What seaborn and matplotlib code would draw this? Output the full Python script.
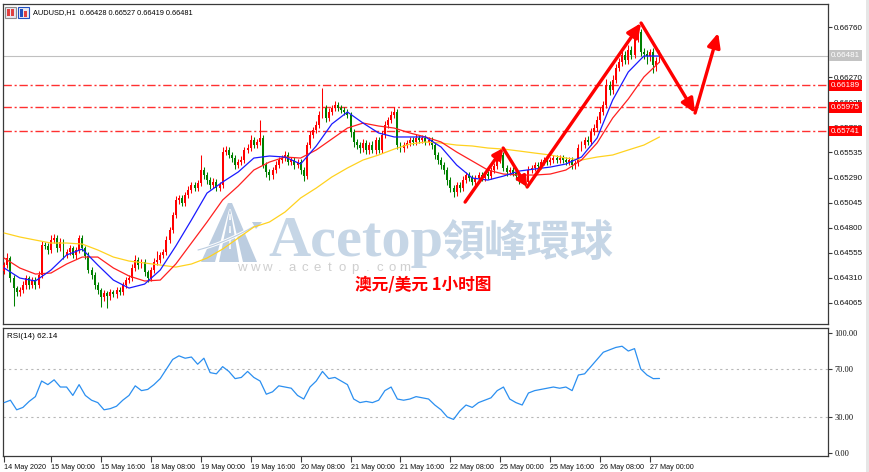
import numpy as np
import matplotlib
matplotlib.use("Agg")
import matplotlib.pyplot as plt
import matplotlib.transforms as mtransforms
from matplotlib.patches import Rectangle, Polygon
import seaborn as sns

sns.set_theme(style="white")
plt.rcParams["font.family"] = ["Liberation Sans", "DejaVu Sans"]

# ---------------- data ----------------
SYMBOL = "AUDUSD,H1"
OHLC_LAST = ["0.66428", "0.66527", "0.66419", "0.66481"]
OPEN_FIRST = 0.64380
CLOSE = [
    0.64435, 0.64503, 0.64308, 0.64210, 0.64171, 0.64191, 0.64240, 0.64308, 0.64240, 0.64288,
    0.64240, 0.64337, 0.64630, 0.64621, 0.64582, 0.64679, 0.64699, 0.64601, 0.64660, 0.64533,
    0.64562, 0.64601, 0.64533, 0.64582, 0.64699, 0.64601, 0.64523, 0.64386, 0.64337, 0.64240,
    0.64191, 0.64122, 0.64161, 0.64132, 0.64171, 0.64152, 0.64191, 0.64171, 0.64240, 0.64288,
    0.64308, 0.64406, 0.64484, 0.64435, 0.64464, 0.64367, 0.64308, 0.64386, 0.64464, 0.64484,
    0.64533, 0.64562, 0.64679, 0.64777, 0.64924, 0.65070, 0.65090, 0.65041, 0.65119, 0.65168,
    0.65217, 0.65187, 0.65236, 0.65363, 0.65314, 0.65265, 0.65217, 0.65246, 0.65187, 0.65217,
    0.65539, 0.65559, 0.65510, 0.65480, 0.65412, 0.65441, 0.65461, 0.65559, 0.65578, 0.65656,
    0.65607, 0.65637, 0.65676, 0.65412, 0.65344, 0.65314, 0.65363, 0.65412, 0.65461, 0.65480,
    0.65510, 0.65441, 0.65461, 0.65412, 0.65441, 0.65363, 0.65304, 0.65607, 0.65705, 0.65754,
    0.65803, 0.65901, 0.65969, 0.65871, 0.65930, 0.65969, 0.65998, 0.65969, 0.65949, 0.65930,
    0.65901, 0.65734, 0.65637, 0.65607, 0.65578, 0.65627, 0.65559, 0.65607, 0.65559, 0.65656,
    0.65559, 0.65705, 0.65803, 0.65852, 0.65901, 0.65930, 0.65607, 0.65578, 0.65607, 0.65627,
    0.65656, 0.65637, 0.65676, 0.65656, 0.65676, 0.65637, 0.65656, 0.65607, 0.65510, 0.65461,
    0.65412, 0.65363, 0.65265, 0.65187, 0.65148, 0.65217, 0.65187, 0.65265, 0.65314, 0.65285,
    0.65246, 0.65285, 0.65314, 0.65285, 0.65324, 0.65304, 0.65363, 0.65402, 0.65461, 0.65510,
    0.65383, 0.65344, 0.65363, 0.65334, 0.65304, 0.65265, 0.65285, 0.65246, 0.65363, 0.65383,
    0.65412, 0.65402, 0.65441, 0.65461, 0.65441, 0.65461, 0.65480, 0.65461, 0.65480, 0.65461,
    0.65441, 0.65461, 0.65412, 0.65432, 0.65578, 0.65607, 0.65656, 0.65637, 0.65734, 0.65774,
    0.65852, 0.65930, 0.65998, 0.66194, 0.66145, 0.66242, 0.66360, 0.66418, 0.66487, 0.66438,
    0.66536, 0.66487, 0.66653, 0.66711, 0.66516, 0.66496, 0.66477, 0.66516, 0.66389, 0.66428,
    0.66481,
]
# wick lengths in pips (0.0001)
WICK_UP = [
    3, 5, 2, 3, 2, 3, 4, 3, 2, 3,  3, 4, 4, 3, 3, 5, 4, 3, 4, 3,
    3, 3, 2, 3, 3, 3, 2, 4, 3, 3,  3, 2, 3, 2, 3, 2, 3, 3, 3, 3,
    3, 4, 5, 3, 3, 3, 2, 3, 4, 9,  3, 3, 4, 3, 3, 4, 3, 3, 3, 4,
    3, 3, 3, 15, 3, 3, 3, 4, 3, 3,  5, 4, 3, 3, 3, 3, 4, 3, 4, 5,
    3, 3, 18, 3, 3, 3, 3, 4, 3, 3,  4, 3, 3, 3, 3, 3, 3, 3, 4, 3,
    4, 4, 20, 3, 4, 3, 4, 3, 3, 3,  3, 3, 3, 3, 3, 4, 3, 3, 4, 3,
    3, 4, 4, 3, 4, 5, 3, 3, 3, 3,  3, 3, 4, 3, 3, 3, 3, 3, 3, 3,
    3, 3, 3, 3, 3, 3, 3, 4, 3, 3,  3, 3, 3, 3, 3, 3, 3, 3, 4, 5,
    3, 3, 3, 3, 3, 3, 3, 3, 4, 3,  3, 3, 3, 3, 3, 3, 3, 3, 3, 3,
    3, 3, 3, 3, 4, 4, 3, 4, 4, 4,  4, 5, 4, 6, 4, 5, 4, 4, 5, 4,
    5, 4, 4, 5, 3, 4, 4, 3, 4, 4,  5,
]
WICK_DN = [
    3, 3, 4, 18, 4, 4, 3, 4, 4, 3,  4, 3, 3, 3, 4, 3, 3, 4, 3, 4,
    3, 3, 3, 4, 3, 3, 3, 3, 4, 4,  4, 10, 4, 12, 4, 3, 4, 3, 3, 3,
    3, 3, 3, 4, 3, 4, 4, 3, 3, 3,  3, 3, 3, 3, 3, 3, 4, 3, 3, 3,
    3, 3, 3, 3, 4, 4, 4, 3, 3, 3,  3, 3, 3, 4, 4, 3, 3, 3, 3, 3,
    3, 3, 3, 3, 5, 5, 4, 3, 3, 3,  3, 3, 3, 4, 3, 4, 5, 3, 3, 3,
    3, 3, 3, 4, 3, 3, 3, 3, 3, 3,  3, 5, 5, 4, 5, 4, 4, 4, 3, 4,
    3, 3, 3, 3, 3, 3, 4, 4, 4, 3,  3, 3, 3, 3, 3, 3, 3, 4, 4, 4,
    4, 4, 5, 4, 5, 4, 4, 3, 3, 3,  3, 3, 3, 3, 3, 3, 3, 3, 3, 3,
    3, 4, 3, 3, 4, 4, 3, 4, 3, 3,  3, 3, 3, 3, 3, 3, 3, 3, 3, 3,
    3, 3, 4, 4, 3, 3, 3, 3, 3, 3,  3, 3, 3, 3, 5, 4, 3, 3, 4, 4,
    4, 4, 3, 4, 4, 5, 8, 5, 8, 6,  1,
]
MA_IDX = list(range(0, 211, 5))
MA_FAST = [0.64406, 0.64308, 0.64279, 0.64386, 0.64533, 0.64591, 0.64435, 0.64288, 0.64210, 0.64249,
           0.64386, 0.64621, 0.64875, 0.65138, 0.65246, 0.65344, 0.65480, 0.65500, 0.65490, 0.65422,
           0.65598, 0.65813, 0.65930, 0.65822, 0.65725, 0.65686, 0.65686, 0.65686, 0.65588, 0.65412,
           0.65285, 0.65265, 0.65304, 0.65353, 0.65373, 0.65392, 0.65422, 0.65490, 0.65676, 0.66047,
           0.66321, 0.66477, 0.66477]
MA_MID = [0.64503, 0.64406, 0.64347, 0.64357, 0.64445, 0.64513, 0.64513, 0.64406, 0.64328, 0.64279,
          0.64288, 0.64445, 0.64650, 0.64855, 0.65070, 0.65207, 0.65363, 0.65441, 0.65490, 0.65480,
          0.65559, 0.65666, 0.65773, 0.65822, 0.65793, 0.65773, 0.65725, 0.65686, 0.65637, 0.65539,
          0.65451, 0.65363, 0.65324, 0.65314, 0.65314, 0.65324, 0.65363, 0.65461, 0.65627, 0.65871,
          0.66057, 0.66272, 0.66418]
MA_SLOW = [0.64748, 0.64709, 0.64679, 0.64650, 0.64650, 0.64640, 0.64582, 0.64513, 0.64474, 0.64455,
           0.64435, 0.64415, 0.64445, 0.64503, 0.64591, 0.64699, 0.64806, 0.64855, 0.64953, 0.65090,
           0.65187, 0.65295, 0.65383, 0.65461, 0.65510, 0.65568, 0.65617, 0.65637, 0.65627, 0.65607,
           0.65598, 0.65578, 0.65568, 0.65549, 0.65529, 0.65510, 0.65480, 0.65461, 0.65490, 0.65510,
           0.65559, 0.65607, 0.65686]
RSI_IDX = list(range(0, 211, 2))
RSI = [42, 44, 36, 38, 43, 47, 60, 57, 61, 55,
       55, 48, 57, 48, 44, 42, 36, 37, 39, 44,
       48, 56, 52, 53, 57, 62, 70, 78, 81, 79,
       80, 74, 79, 67, 66, 72, 68, 62, 63, 68,
       63, 60, 49, 51, 56, 55, 54, 48, 45, 55,
       60, 68, 62, 63, 60, 57, 45, 42, 43, 42,
       44, 52, 55, 45, 44, 45, 47, 46, 45, 40,
       36, 30, 28, 35, 40, 38, 42, 44, 46, 52,
       55, 45, 42, 40, 50, 52, 53, 54, 55, 54,
       55, 52, 65, 66, 72, 78, 84, 86, 88, 89,
       85, 87, 70, 65, 62, 62.14]
RSI_LABEL = "RSI(14) 62.14"
LEVELS = [0.66189, 0.65975, 0.65741]
LEVEL_LABELS = ["0.66189", "0.65975", "0.65741"]
LAST_PRICE = 0.66481
YTICKS = [0.66760, 0.66515, 0.66270, 0.66025, 0.65780, 0.65535, 0.65290,
          0.65045, 0.64800, 0.64555, 0.64310, 0.64065]
YTICK_LABELS = ["0.66760", "0.66515", "0.66270", "0.66025", "0.65780", "0.65535", "0.65290",
                "0.65045", "0.64800", "0.64555", "0.64310", "0.64065"]
XTICK_POS = [0, 15, 31, 47, 63, 79, 95, 111, 127, 143, 159, 175, 191, 207]
XTICK_LABELS = ["14 May 2020", "15 May 00:00", "15 May 16:00", "18 May 08:00", "19 May 00:00",
                "19 May 16:00", "20 May 08:00", "21 May 00:00", "21 May 16:00", "22 May 08:00",
                "25 May 00:00", "25 May 16:00", "26 May 08:00", "27 May 00:00"]
RSI_TICKS = [0, 30, 70, 100]
RSI_TICK_LABELS = ["0.00", "30.00", "70.00", "100.00"]
ARROW_BAR = [147.7, 159.9, 167.6, 204.1, 221.4, 228.8]
ARROW_PRICE = [0.65050, 0.65578, 0.65197, 0.66799, 0.65920, 0.66702]
CAPTION = "澳元/美元 1小时图"
WM_LATIN = "Acetop"
WM_CJK = "領峰環球"
WM_URL = "www.acetop.com"

# ---------------- figure ----------------
W, H = 870, 472
fig = plt.figure(figsize=(W / 100, H / 100), dpi=100)
fig.patch.set_facecolor("white")


def fbox(l, t, r, b):
    return [l / W, 1 - b / H, (r - l) / W, (b - t) / H]


def fp(x, y):
    return (x / W, 1 - y / H)


ax = fig.add_axes(fbox(3, 4, 828, 324))
axr = fig.add_axes(fbox(3, 328, 828, 456), sharex=ax)
for a in (ax, axr):
    a.set_facecolor("white")
    for s in a.spines.values():
        s.set_color("#3a3a3a")
        s.set_linewidth(0.9)
    a.grid(False)

# candles
n = len(CLOSE)
idx = np.arange(n)
close = np.array(CLOSE)
opn = np.r_[OPEN_FIRST, close[:-1]]
hi = np.maximum(opn, close) + np.array(WICK_UP) * 1e-4
lo = np.minimum(opn, close) - np.array(WICK_DN) * 1e-4
cols = np.where(close >= opn, "#ff0000", "#008000")
ax.vlines(idx, lo, hi, colors=cols, lw=0.75, zorder=3)
body = np.maximum(np.abs(close - opn), 0.00003)
ax.bar(idx, body, bottom=np.minimum(opn, close), width=0.62, color=cols, linewidth=0, zorder=3)

# moving averages
sns.lineplot(x=MA_IDX, y=MA_SLOW, ax=ax, color="#ffd21f", lw=0.9, zorder=4)
sns.lineplot(x=MA_IDX, y=MA_MID, ax=ax, color="#ff2020", lw=0.9, zorder=4)
sns.lineplot(x=MA_IDX, y=MA_FAST, ax=ax, color="#1a1aff", lw=0.9, zorder=4)

# level lines
for lv in LEVELS:
    ax.axhline(lv, color="#ff3030", lw=1.0, ls=(0, (6, 2, 1.5, 2)), zorder=2)
ax.axhline(LAST_PRICE, color="#c0c0c0", lw=0.8, zorder=2)

# arrows
for k in range(len(ARROW_BAR) - 1):
    hs = "head_length=0.5,head_width=0.25" if k < 2 else "head_length=0.7,head_width=0.32"
    ax.annotate("", xy=(ARROW_BAR[k + 1], ARROW_PRICE[k + 1]),
                xytext=(ARROW_BAR[k], ARROW_PRICE[k]),
                arrowprops=dict(arrowstyle="-|>," + hs,
                                color="#ff0000", lw=2.4, shrinkA=0, shrinkB=0),
                zorder=6)

ax.set_xlim(-0.38, 264.0)
ax.set_ylim(0.63859, 0.66985)
ax.set_xlabel("")
ax.set_ylabel("")
ax.yaxis.tick_right()
ax.set_yticks(YTICKS)
ax.set_yticklabels(YTICK_LABELS)
ax.tick_params(axis="y", direction="out", length=3, width=0.8, pad=1,
               labelsize=5.8, colors="#3a3a3a", labelcolor="#111111", left=False, right=True)
ax.tick_params(axis="x", bottom=False, labelbottom=False)

# right price boxes
tr = mtransforms.blended_transform_factory(ax.transAxes, ax.transData)
ax.text(1.0 + 3 / 825, LAST_PRICE, f"{LAST_PRICE:.5f}", transform=tr, ha="left", va="center",
        fontsize=5.8, color="white", zorder=10, clip_on=False,
        bbox=dict(boxstyle="square,pad=0.2", fc="#c3c3c3", ec="none"))
for lv, lab in zip(LEVELS, LEVEL_LABELS):
    ax.text(1.0 + 3 / 825, lv, lab, transform=tr, ha="left", va="center",
            fontsize=5.8, color="white", zorder=10, clip_on=False,
            bbox=dict(boxstyle="square,pad=0.2", fc="#ff0000", ec="none"))

# header
fig.text(33 / W, 1 - 13 / H, SYMBOL + "  " + " ".join(OHLC_LAST), fontsize=5.3,
         va="center", ha="left", color="#000000")
for (x0, c) in [(5, "#8c8c8c"), (18, "#2050c0")]:
    fig.patches.append(Rectangle(fp(x0, 18), 11 / W, 11 / H,
                                 transform=fig.transFigure, fc="#e8e8f0", ec=c, lw=0.8))
fig.patches.append(Rectangle(fp(7, 16), 3 / W, 7 / H, transform=fig.transFigure, fc="#e04040", ec="none"))
fig.patches.append(Rectangle(fp(11, 16), 3 / W, 7 / H, transform=fig.transFigure, fc="#e04040", ec="none"))
fig.patches.append(Rectangle(fp(20, 17), 3 / W, 8 / H, transform=fig.transFigure, fc="#2050c0", ec="none"))
fig.patches.append(Rectangle(fp(24, 17), 3 / W, 6 / H, transform=fig.transFigure, fc="#e04040", ec="none"))

# watermark
wm_col = "#c6d6e6"
logo_col = "#bccde0"
ax.text(268 / W, 1 - 256 / H, WM_LATIN, transform=fig.transFigure, fontsize=42,
        family=["Liberation Serif"], fontweight="bold", color=wm_col, ha="left",
        va="baseline", zorder=1)
ax.text(441 / W, 1 - 256 / H, WM_CJK, transform=fig.transFigure, fontsize=31,
        family=["Noto Sans CJK TC", "DejaVu Sans"], fontweight="bold", color=wm_col,
        ha="left", va="baseline", zorder=1)
xs = np.linspace(242, 405, len(WM_URL))
for ch, xx in zip(WM_URL, xs):
    ax.text(xx / W, 1 - 268 / H, ch, transform=fig.transFigure, fontsize=9.5,
            color="#cfcfcf", ha="center", va="center", zorder=1)
# logo: perspective road forming an "A", with a swoosh
ax.add_patch(Polygon([fp(201, 262), fp(228, 203), fp(232, 203), fp(257, 262)], closed=True,
                     transform=fig.transFigure, fc=logo_col, ec="none", zorder=1))
for pts in ([(215, 262), (229.2, 209), (229.8, 209), (219, 262)],
            [(239, 262), (230.2, 209), (230.8, 209), (243, 262)]):
    ax.add_patch(Polygon([fp(x, y) for x, y in pts], closed=True,
                         transform=fig.transFigure, fc="white", ec="none", zorder=1.1))
for y0, y1 in [(214, 220), (226, 233), (240, 249)]:
    ax.add_patch(Polygon([fp(229.4, y0), fp(230.6, y0), fp(230.9, y1), fp(229.1, y1)], closed=True,
                         transform=fig.transFigure, fc="white", ec="none", zorder=1.1))
t = np.linspace(0, 1, 30)
sx = 198 + 60 * t
sy = 250 - 26 * t + 10 * t * (1 - t)
ax.plot(sx / W, 1 - sy / H, transform=fig.transFigure, color="white", lw=2.2, zorder=1.2,
        solid_capstyle="round")
ax.plot(sx / W, 1 - sy / H, transform=fig.transFigure, color=logo_col, lw=0.8, zorder=1.3)
ax.add_patch(Polygon([fp(262, 222), fp(252, 222), fp(256, 229)], closed=True,
                     transform=fig.transFigure, fc=logo_col, ec="none", zorder=1.3))

# caption
fig.text(355 / W, 1 - 285 / H, CAPTION, family=["Noto Sans CJK SC", "DejaVu Sans"],
         fontsize=12, fontweight="bold", color="#ff0000", va="center", ha="left")

# RSI panel
sns.lineplot(x=RSI_IDX, y=RSI, ax=axr, color="#2b8ff0", lw=0.9, zorder=3)
for lv in (30, 70):
    axr.axhline(lv, color="#b8b8b8", lw=0.8, ls=(0, (2, 3)), zorder=2)
axr.set_ylim(-2.5, 104.2)
axr.set_xlim(-0.38, 264.0)
axr.set_xlabel("")
axr.set_ylabel("")
axr.yaxis.tick_right()
axr.set_yticks(RSI_TICKS)
axr.set_yticklabels(RSI_TICK_LABELS, family=["Liberation Serif"])
axr.tick_params(axis="y", direction="out", length=3, width=0.8, pad=1.5,
                labelsize=6, colors="#3a3a3a", labelcolor="#111111", left=False, right=True)
axr.set_xticks(XTICK_POS)
axr.set_xticklabels(XTICK_LABELS, ha="left")
axr.tick_params(axis="x", direction="out", length=4, width=0.8, pad=1.5, labelsize=5.2,
                colors="#3a3a3a", labelcolor="#111111", bottom=True)
axr.text(4 / 825, 0.93, RSI_LABEL, transform=axr.transAxes, fontsize=5.8, va="center",
         ha="left", color="#000000")

# right edge strip
fig.patches.append(Rectangle((866 / W, 0), 4 / W, 1, transform=fig.transFigure,
                             fc="#e6e6e6", ec="none"))

fig.savefig("out.png", dpi=100)
